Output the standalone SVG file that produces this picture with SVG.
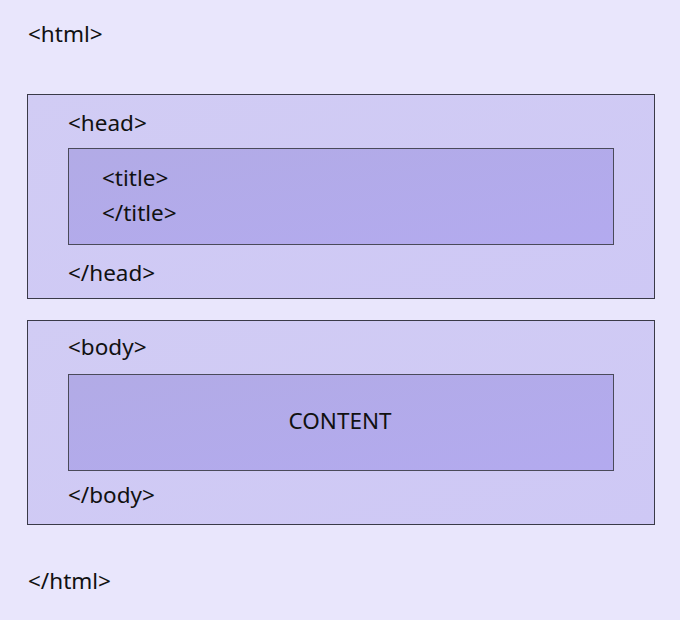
<svg xmlns="http://www.w3.org/2000/svg" width="680" height="620" viewBox="0 0 680 620">
<defs>
<linearGradient id="ig" x1="0" y1="0" x2="1" y2="1">
<stop offset="0" stop-color="#b2abe6"/>
<stop offset="1" stop-color="#b3aaef"/>
</linearGradient>
<linearGradient id="og" x1="0" y1="0" x2="1" y2="1">
<stop offset="0" stop-color="#d1ccf4"/>
<stop offset="1" stop-color="#cec8f5"/>
</linearGradient>
</defs>
<style>
text{font-family:"Noto Sans","Open Sans",sans-serif;font-size:22.5px;fill:#111}
.outer{fill:url(#og);stroke:#3a3a48;stroke-width:1}
.inner{fill:url(#ig);stroke:#4a4a5a;stroke-width:1}
</style>
<rect width="680" height="620" fill="#e9e6fc"/>
<g id="html">
<text x="28" y="42">&lt;html&gt;</text>
<text x="28" y="589">&lt;/html&gt;</text>
</g>
<g id="head">
<rect class="outer" x="27.5" y="94.5" width="627" height="204"/>
<text x="68" y="131">&lt;head&gt;</text>
<text x="68" y="281">&lt;/head&gt;</text>
</g>
<g id="title">
<rect class="inner" x="68.5" y="148.5" width="545" height="96"/>
<text x="102" y="186">&lt;title&gt;</text>
<text x="102" y="221">&lt;/title&gt;</text>
</g>
<g id="body">
<rect class="outer" x="27.5" y="320.5" width="627" height="204"/>
<text x="68" y="355">&lt;body&gt;</text>
<text x="68" y="503">&lt;/body&gt;</text>
</g>
<g id="content">
<rect class="inner" x="68.5" y="374.5" width="545" height="96"/>
<text x="340" y="429" text-anchor="middle">CONTENT</text>
</g>
<g id="connectors"/>
</svg>
